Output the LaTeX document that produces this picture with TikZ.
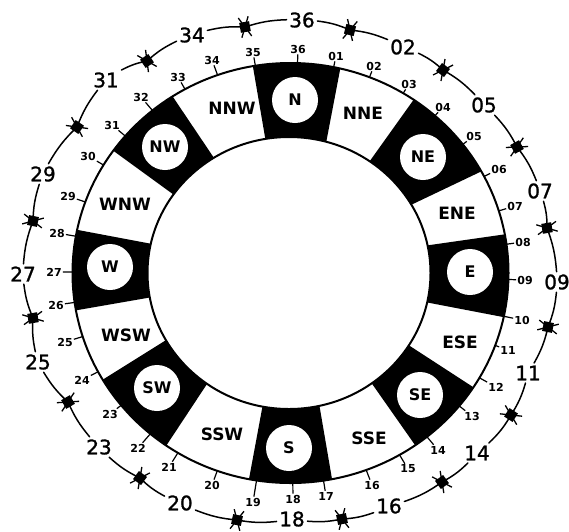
\documentclass[tikz,border=0pt]{standalone}
\usepackage{fontspec}
\setmainfont{DejaVu Sans}
\newfontfamily\runfont[FakeBold=1.2]{DejaVu Sans}
\usetikzlibrary{calc}
\tikzset{
  ringline/.style={line width=2pt},
  runway/.style={font=\runfont\fontsize{20}{20}\selectfont, inner sep=2.5pt},
  degree/.style={font=\bfseries\fontsize{11}{11}\selectfont, inner sep=1pt},
  compass/.style={font=\bfseries\fontsize{17}{17}\selectfont, inner sep=0pt},
  disc/.style={circle, fill=white, inner sep=0pt, minimum size=46pt, font=\bfseries\fontsize{16}{17}\selectfont},
  track/.style={line width=1.5pt, line cap=round},
  hatch/.style={line width=1.3pt},
  hatchcore/.style={fill=black}
}
\begin{document}
\begin{tikzpicture}[x=1pt,y=-1pt]
\useasboundingbox (0,0) rectangle (569,531);
\fill[white] (0,0) rectangle (569,531);
\coordinate (C) at (290,273);
% sector boundaries: inner and outer ends
\foreach \n/\ix/\iy/\ox/\oy in {
  a/327/138/340/70, b/372/158/412/102, c/415/203/480/172, d/430/245/500/235,
  e/430/303/503/317, f/413/348/473/387, g/375/388/415/445, h/320/409/332/479,
  i/262/409/249/479, j/205/387/168/443, k/163/342/107/377, l/147/298/78/310,
  m/147/243/78/230, n/170/192/115/152, o/212/155/173/97, p/265/137/253/67}{
  \coordinate (i\n) at (\ix,\iy);
  \coordinate (o\n) at (\ox,\oy);
}
\begin{scope}
  \clip (290.5,273) ellipse [x radius=218, y radius=210];
  \foreach \u/\v in {p/a, b/c, d/e, f/g, h/i, j/k, l/m, n/o}{
    \fill[black] ($(o\u)!1.25!(i\u)$) -- ($(i\u)!1.3!(o\u)$) -- ($(i\v)!1.3!(o\v)$) -- ($(o\v)!1.25!(i\v)$) -- cycle;
  }
\end{scope}
\draw[ringline] (290.5,273) ellipse [x radius=218, y radius=210];
\draw[ringline, fill=white] (289,273) ellipse [x radius=141.5, y radius=136];
% compass discs
\foreach \t/\x/\y in {N/295/100, NE/423/157, E/470/272, SE/420/395, S/289/448, SW/157/388, W/110/267, NW/165/147}{
  \node[disc] (disc\t) at (\x,\y) {\t};
}
% compass labels in the white sectors
\foreach \t/\x/\y in {NNW/232/108, NNE/363/113, ENE/457/213, ESE/460/342, SSE/369/438, SSW/222/434, WSW/126/335, WNW/125/204}{
  \node[compass] (lab\t) at (\x,\y) {\t};
}
% degree labels and ticks to the ring
\foreach \t/\x/\y in {
  33/178/77, 34/212/60, 35/253/52, 36/298/49, 01/336/56, 02/374/66, 03/409/84, 04/443/107,
  05/474/136, 06/499/169, 07/515/206, 08/523/242, 09/525/280, 10/522/320, 11/508/350, 12/496/387,
  13/472/416, 14/438/450, 15/408/469, 16/372/485, 17/326/496, 18/293/499, 19/253/502, 20/212/485,
  21/169/467, 22/138/448, 23/110/414, 24/82/380, 25/65/342, 26/56/305, 27/54/272, 28/57/233,
  29/68/196, 30/88/156, 31/112/125, 32/141/97}{
  \node[degree] (d\t) at (\x,\y) {\t};
  \pgfmathsetmacro{\ang}{atan2((\y-273)/210,(\x-290.5)/218)}
  \coordinate (tick\t) at ({290.5+218*cos(\ang)},{273+210*sin(\ang)});
  \draw[line width=1.2pt] (d\t) -- (tick\t);
}
% outer runway labels
\foreach \t/\x/\y in {
  36/302/20, 02/403/47, 05/484/105, 07/540/191, 09/557/282, 11/528/373, 14/477/453, 16/389/506,
  18/292/519, 20/180/503, 23/99/447, 25/38/362, 27/23/274, 29/43/174, 31/106/80, 34/192/35}{
  \node[runway] (r\t) at (\x,\y) {\t};
}
% outer arcs with hatch marks
\foreach \a/\b/\x/\y in {
  34/36/245/27, 36/02/350/30, 02/05/443/70, 05/07/517/147, 07/09/547/228, 09/11/548/327,
  11/14/511/415, 14/16/442/482, 16/18/342/519, 18/20/237/520, 20/23/140/478, 23/25/68/402,
  25/27/33/318, 27/29/33/221, 29/31/77/127, 31/34/147/61}{
  \coordinate (m\a) at (\x,\y);
  \draw[track] (r\a) to[bend left=8] (m\a) to[bend left=8] (r\b);
  \pgfmathsetmacro{\rot}{atan2(\y-273,\x-290)}
  \begin{scope}[shift={(m\a)}]
    \begin{scope}[rotate=-\rot]
      \fill[hatchcore] (-5,-5) rectangle (5,5);
      \draw[hatch] (-10,-5) -- (10,5);
      \draw[hatch] (-10,5) -- (10,-5);
    \end{scope}
  \end{scope}
}
\end{tikzpicture}
\end{document}
